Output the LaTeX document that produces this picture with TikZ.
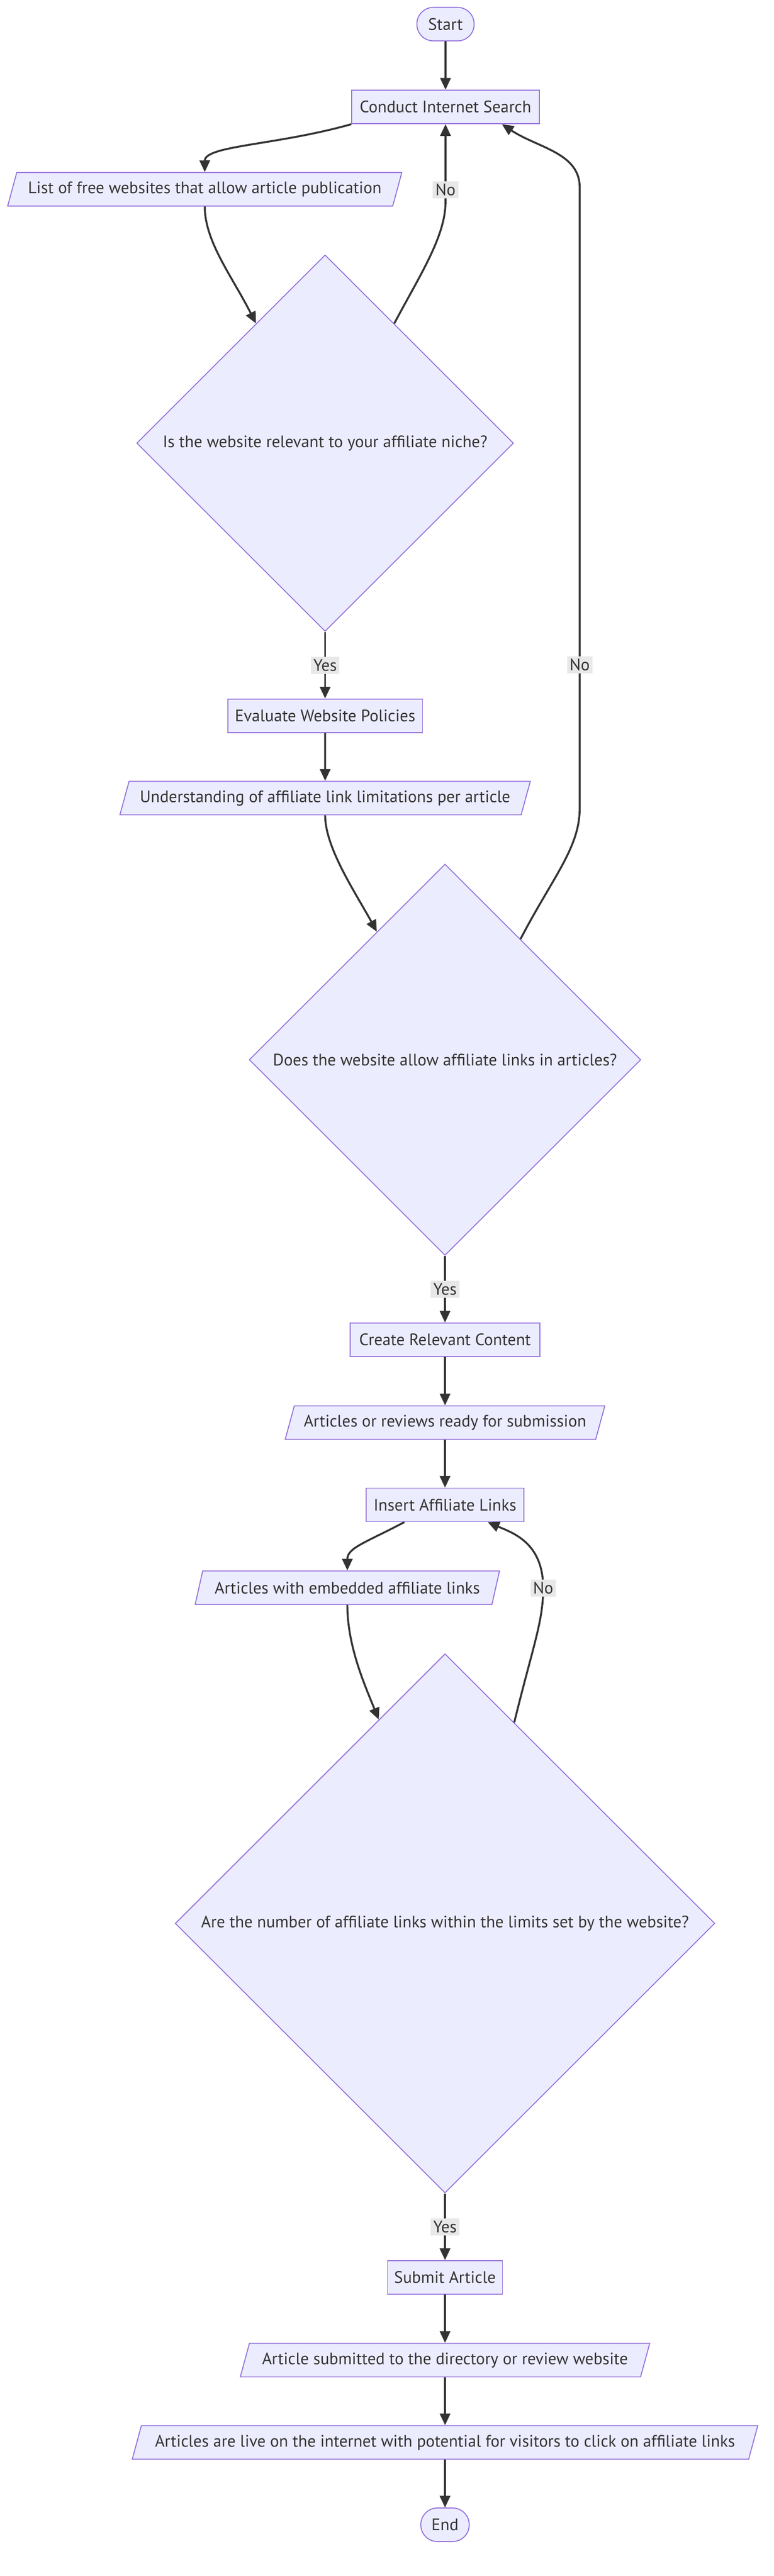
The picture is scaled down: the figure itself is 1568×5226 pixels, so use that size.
\documentclass[tikz,border=0pt]{standalone}
\usepackage{fontspec}
\setmainfont{PT Sans}
\usetikzlibrary{positioning}
\usetikzlibrary{shapes.geometric}
\usetikzlibrary{arrows.meta}
\usepackage{xcolor}

\definecolor{nodefill}{HTML}{ECECFF}
\definecolor{nodeline}{HTML}{9370DB}
\definecolor{edgeline}{HTML}{333333}
\definecolor{labelfill}{HTML}{E8E8E8}

\begin{document}
\begin{tikzpicture}[x=0.02cm, y=-0.02cm,
  every node/.style={font=\fontsize{19.2}{23}\selectfont, text=edgeline},
  box/.style={draw=nodeline, fill=nodefill, line width=1.1pt, minimum height=1.36cm, inner sep=2pt},
  term/.style={box, rounded corners=0.67cm},
  io/.style={box, trapezium, trapezium left angle=64, trapezium right angle=116, trapezium stretches body, inner xsep=1pt},
  decision/.style={box, diamond, aspect=1, inner sep=1pt},
  flow/.style={draw=edgeline, line width=2.2pt, -{Triangle[length=13.5pt, width=12pt]}},
  answer/.style={fill=labelfill, inner sep=3pt}]

\useasboundingbox (0,0) rectangle (1568,5226);

% nodes
{
\node[term, minimum width=2.32cm] (start) at (903,49) {Start};
\node[box, minimum width=7.6cm] (search) at (903,217) {Conduct Internet Search};
\node[io, minimum width=15.98cm] (websites) at (415,384) {List of free websites that allow article publication};
\node[decision, minimum width=15.28cm, minimum height=15.28cm] (relevant) at (659,899) {Is the website relevant to your affiliate niche?};
\node[box, minimum width=7.9cm] (evaluate) at (659,1452) {Evaluate Website Policies};
\node[io, minimum width=16.64cm] (limits) at (659,1619) {Understanding of affiliate link limitations per article};
\node[decision, minimum width=15.88cm, minimum height=15.88cm] (allowed) at (902,2150) {Does the website allow affiliate links in articles?};
\node[box, minimum width=7.7cm] (create) at (902,2718) {Create Relevant Content};
\node[io, minimum width=12.96cm] (drafts) at (902,2886) {Articles or reviews ready for submission};
\node[box, minimum width=6.4cm] (insert) at (902,3053) {Insert Affiliate Links};
\node[io, minimum width=12.34cm] (embedded) at (704,3221) {Articles with embedded affiliate links};
\node[decision, minimum width=21.88cm, minimum height=21.88cm] (within) at (902,3902) {Are the number of affiliate links within the limits set by the website?};
\node[box, minimum width=4.66cm] (submit) at (902,4620) {Submit Article};
\node[io, minimum width=16.6cm] (submitted) at (902,4788) {Article submitted to the directory or review website};
\node[io, minimum width=25.36cm] (live) at (902,4955) {Articles are live on the internet with potential for visitors to click on affiliate links};
\node[term, minimum width=1.96cm] (stop) at (902,5122) {End};
}

% arrows
{
\draw[flow] (start) -- (search);
\draw[flow] (search.south west) .. controls (560,295) and (415,295) .. (websites.north);
\draw[flow] (websites.south) .. controls (415,490) and (470,560) .. (relevant.120);
\draw[flow] (relevant.60) .. controls (850,560) and (903,480) .. (903,410) -- (903,385) node[answer] {No} -- (search.south);
\draw[flow] (relevant) -- node[answer] {Yes} (evaluate);
\draw[flow] (evaluate) -- (limits);
\draw[flow] (limits.south) .. controls (659,1720) and (720,1810) .. (allowed.118);
\draw[flow] (allowed.58) .. controls (1120,1780) and (1175,1720) .. (1175,1640) -- (1175,1349) node[answer] {No} -- (1175,380) .. controls (1175,310) and (1090,300) .. (search.-17);
\draw[flow] (allowed) -- node[answer] {Yes} (create);
\draw[flow] (create) -- (drafts);
\draw[flow] (drafts) -- (insert);
\draw[flow] (insert.-157) .. controls (740,3130) and (704,3140) .. (embedded.north);
\draw[flow] (embedded.south) .. controls (704,3340) and (740,3420) .. (within.108);
\draw[flow] (within.71) .. controls (1080,3340) and (1101,3290) .. (1101,3222) node[answer] {No} .. controls (1101,3130) and (1040,3110) .. (insert.-22);
\draw[flow] (within) -- node[answer] {Yes} (submit);
\draw[flow] (submit) -- (submitted);
\draw[flow] (submitted) -- (live);
\draw[flow] (live) -- (stop);
}

\end{tikzpicture}
\end{document}
